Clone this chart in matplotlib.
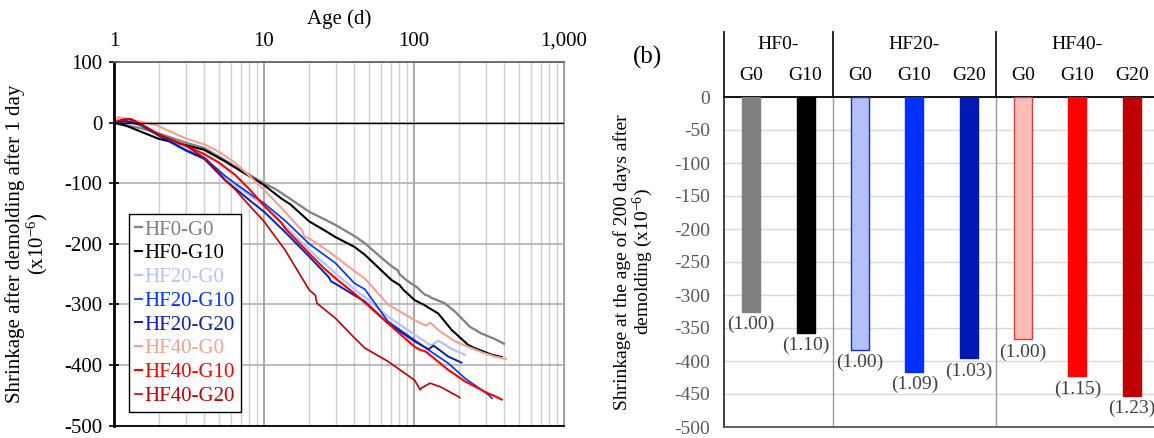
import matplotlib
matplotlib.use("Agg")
import matplotlib.pyplot as plt
import matplotlib.transforms as mtransforms
from matplotlib.ticker import FixedLocator, FixedFormatter, NullFormatter, LogLocator

plt.rcParams["font.family"] = ["Liberation Serif", "DejaVu Serif"]
plt.rcParams["axes.unicode_minus"] = False
plt.rcParams["mathtext.fontset"] = "custom"
plt.rcParams["mathtext.rm"] = "Liberation Serif"
plt.rcParams["mathtext.default"] = "rm"

# (a) shrinkage curves, age in days, shrinkage in x10^-6
gray_t = [1, 1.1, 1.5, 2, 3, 4, 5.5, 7, 10, 12, 15, 20, 25, 30, 40, 47, 60, 70, 78, 80, 89, 105, 118, 125, 130, 160, 188, 236, 281, 346, 398]
gray_v = [0, -3, -9, -18, -33, -42, -62, -78, -100, -110, -126, -147, -159, -169, -187, -199, -222, -236, -244, -250, -260, -272, -284, -286, -289, -298, -312, -337, -348, -357, -365]

black_t = [1, 1.2, 2, 3, 4, 5.5, 7, 10, 13, 15, 20, 25, 30, 40, 47, 60, 71, 80, 85, 101, 115, 145, 178, 230, 253, 330, 385]
black_v = [0, -5, -27, -37, -45, -64, -80, -103, -125, -135, -163, -177, -189, -205, -218, -243, -260, -268, -276, -293, -300, -315, -342, -367, -372, -383, -387]

lblue_t = [1, 1.2, 1.5, 2, 3, 4, 5.5, 6.4, 8, 10, 14, 20, 30, 40, 47, 67, 101, 130, 145, 160, 180, 219]
lblue_v = [0, 3, -2, -20, -44, -58, -90, -102, -120, -137, -172, -210, -249, -275, -288, -320, -350, -368, -360, -366, -374, -383]

blue_t = [1, 1.2, 1.5, 2, 3, 4, 5.5, 6.4, 8, 10, 14, 20, 30, 40, 47, 67, 101, 130, 169, 219, 260, 313, 331]
blue_v = [0, 3, -3, -20, -45, -58, -88, -100, -117, -133, -163, -200, -232, -265, -275, -328, -359, -378, -397, -422, -435, -449, -455]

dblue_t = [1, 1.2, 1.5, 2, 3, 4, 5.5, 6.4, 8, 10, 14, 20, 27, 28, 30, 40, 47, 67, 101, 125, 135, 169, 207]
dblue_v = [0, 2, -4, -22, -46, -60, -95, -108, -128, -147, -182, -221, -255, -262, -266, -285, -295, -331, -361, -374, -368, -386, -396]

salmon_t = [1, 1.07, 1.3, 1.9, 3, 4, 5, 6.4, 8, 10, 13.8, 16, 18, 18.5, 20, 25, 30, 40, 47, 67, 101, 120, 128, 150, 188, 230, 290, 346, 410]
salmon_v = [0, 9, 5, -4, -26, -36, -48, -66, -88, -111, -147, -165, -178, -188, -191, -207, -221, -245, -257, -300, -326, -335, -330, -345, -361, -370, -380, -386, -390]

red_t = [1, 1.1, 1.25, 1.5, 2, 3, 4, 5, 6.4, 8, 10, 13, 14, 20, 25, 30, 40, 47, 67, 101, 110, 120, 169, 219, 313, 350, 385]
red_v = [0, 4, 6, -2, -20, -38, -52, -66, -86, -110, -137, -165, -176, -216, -240, -257, -282, -297, -331, -370, -375, -378, -408, -427, -447, -452, -457]

dred_t = [1, 1.15, 1.3, 2, 3, 4, 5, 5.5, 6.4, 8, 10, 13.8, 20, 22, 22.5, 30, 40, 47, 67, 101, 110, 112, 128, 150, 197, 202]
dred_v = [0, 5, 6, -20, -38, -58, -82, -95, -110, -137, -163, -210, -276, -285, -298, -323, -355, -372, -394, -425, -441, -438, -430, -436, -452, -454]

series = [
    ("HF0-G0", gray_t, gray_v, "#808080", 1.6),
    ("HF0-G10", black_t, black_v, "#000000", 1.5),
    ("HF20-G0", lblue_t, lblue_v, "#b4c4f8", 1.6),
    ("HF20-G10", blue_t, blue_v, "#0033ff", 1.2),
    ("HF20-G20", dblue_t, dblue_v, "#0a1fb0", 1.4),
    ("HF40-G0", salmon_t, salmon_v, "#f6a090", 1.5),
    ("HF40-G10", red_t, red_v, "#ff0000", 1.5),
    ("HF40-G20", dred_t, dred_v, "#c00000", 1.2),
]

# (b) shrinkage at 200 days
groups = ["HF0-", "HF20-", "HF40-"]
group_centers = [0.5, 3, 6]
bar_labels = ["G0", "G10", "G0", "G10", "G20", "G0", "G10", "G20"]
bar_vals = [-325, -357, -383, -416, -396, -367, -423, -453]
ratios = ["(1.00)", "(1.10)", "(1.00)", "(1.09)", "(1.03)", "(1.00)", "(1.15)", "(1.23)"]
bar_fill = ["#808080", "#000000", "#b4c0fa", "#0030ff", "#0019b4", "#fbbdb4", "#ff0000", "#c00000"]
bar_edge = ["#808080", "#000000", "#1030c0", "#0030ff", "#0019b4", "#d84040", "#ff0000", "#c00000"]

fig = plt.figure(figsize=(11.54, 4.38), dpi=100)

# ---- left panel ----
ax = fig.add_axes([114 / 1154, 12.4 / 438, 450 / 1154, 363.6 / 438])
for name, t, v, c, w in series:
    ax.plot(t, v, color=c, lw=w, label=name)
ax.set_xscale("log")
ax.set_xlim(1, 1000)
ax.set_ylim(-500, 100)
ax.xaxis.tick_top()
ax.xaxis.set_label_position("top")
ax.xaxis.set_major_locator(FixedLocator([1, 10, 100, 1000]))
ax.xaxis.set_major_formatter(FixedFormatter(["1", "10", "100", "1,000"]))
ax.xaxis.set_minor_locator(LogLocator(base=10, subs=range(2, 10)))
ax.xaxis.set_minor_formatter(NullFormatter())
ax.set_yticks(range(-500, 101, 100))
ax.tick_params(axis="x", which="both", length=0, labelsize=15, pad=8)
ax.tick_params(axis="y", direction="inout", length=7, width=1.2, labelsize=15, pad=5)
ax.grid(True, which="major", axis="x", color="#999999", lw=1.2)
ax.grid(True, which="minor", axis="x", color="#cfcfcf", lw=1)
ax.grid(True, which="major", axis="y", color="#b0b0b0", lw=1.2)
ax.axhline(0, color="black", lw=1)
ax.set_axisbelow(True)
ax.spines["left"].set_linewidth(2)
ax.spines["left"].set_color("black")
ax.spines["bottom"].set_linewidth(1.3)
ax.spines["top"].set_color("#666666")
ax.spines["top"].set_linewidth(1.3)
ax.spines["right"].set_color("#999999")
ax.set_xlabel("Age (d)", fontsize=15, labelpad=6)
ax.set_ylabel("Shrinkage after demolding after 1 day\n(x10$^{-6}$)", fontsize=15, linespacing=1.0)
ax.yaxis.set_label_coords(-0.142, 0.5)
leg = ax.legend(loc="lower left", bbox_to_anchor=(0.033, 0.037), borderaxespad=0,
                fontsize=15, handlelength=0.35, handletextpad=0.1, labelspacing=0.2,
                borderpad=0.3, fancybox=False, edgecolor="black",
                framealpha=1, labelcolor="linecolor")
leg.get_frame().set_linewidth(1)

# ---- right panel ----
ax2 = fig.add_axes([724 / 1154, 11 / 438, 435 / 1154, 330 / 438])
x = list(range(len(bar_vals)))
ax2.bar(x, bar_vals, width=0.33, color=bar_fill, edgecolor=bar_edge, lw=1, zorder=3)
for xi, v, r in zip(x, bar_vals, ratios):
    ax2.annotate(r, (xi, v), xytext=(0, -3), textcoords="offset points",
                 ha="center", va="top", fontsize=14, color="#404040")
ax2.set_xlim(-0.5, 7.5)
ax2.set_ylim(-500, 0)
ax2.set_yticks(range(-500, 1, 50))
ax2.set_xticks([])
ax2.tick_params(axis="y", length=0, labelsize=14, labelcolor="#595959", pad=10)
ax2.grid(True, axis="y", color="#d9d9d9", lw=1)
ax2.set_axisbelow(True)
ax2.spines["right"].set_visible(False)
ax2.spines["top"].set_color("black")
ax2.spines["top"].set_linewidth(1.3)
ax2.spines["left"].set_color("#333333")
ax2.spines["left"].set_linewidth(1.3)
ax2.spines["bottom"].set_color("#555555")
ax2.spines["bottom"].set_linewidth(1.3)
for sx in [1.5, 4.5]:
    ax2.axvline(sx, color="#999999", lw=1, zorder=1)

trans = mtransforms.blended_transform_factory(ax2.transData, ax2.transAxes)
for sx in [-0.5, 1.5, 4.5]:
    ax2.plot([sx, sx], [1.0, 1.197], color="black", lw=1.2, transform=trans, clip_on=False)
for g, gc in zip(groups, group_centers):
    ax2.text(gc, 1.16, g, transform=trans, ha="center", va="center", fontsize=14)
for xi, lab in zip(x, bar_labels):
    ax2.text(xi, 1.064, lab, transform=trans, ha="center", va="center", fontsize=14)

ax2.set_ylabel("Shrinkage at the age of 200 days after\ndemolding (x10$^{-6}$)", fontsize=14, linespacing=1.0)
ax2.yaxis.set_label_coords(-0.159, 0.5)
fig.text(647 / 1154, 1 - 57 / 438, "(b)", fontsize=18, ha="center", va="center")

fig.savefig("out.png", dpi=100)
